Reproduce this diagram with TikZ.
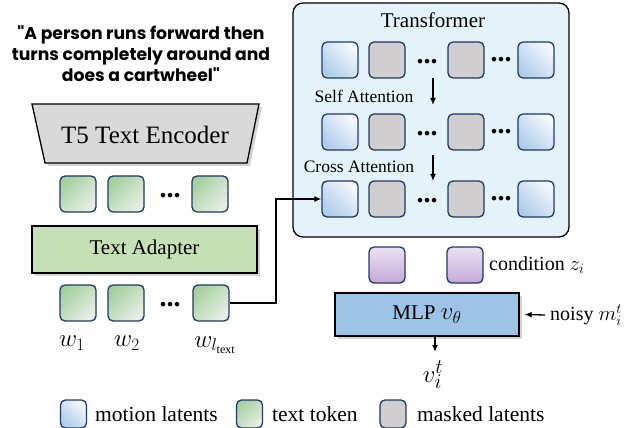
\documentclass[tikz,border=0pt]{standalone}
\usepackage{fontspec}
\setmainfont{Liberation Serif}
\newfontfamily\quotefont{Poppins}
\usetikzlibrary{shadows,arrows.meta}
\definecolor{navy}{HTML}{1F3864}
\definecolor{tfbg}{HTML}{E4F3F9}
\definecolor{encgray}{HTML}{D9D9D9}
\definecolor{adgreen}{HTML}{C5E0B4}
\definecolor{mlpblue}{HTML}{9DC3E6}
\definecolor{maskgray}{HTML}{D0CECE}
\definecolor{blueA}{HTML}{AFCDEB}
\definecolor{blueB}{HTML}{F4F8FC}
\definecolor{greenA}{HTML}{A6D0A0}
\definecolor{greenB}{HTML}{E8EEE6}
\definecolor{purA}{HTML}{EBE2F2}
\definecolor{purB}{HTML}{C4A8D9}
\tikzset{
  tok/.style={draw=navy, line width=1.3pt, rounded corners=5pt, minimum width=36pt, minimum height=36pt, inner sep=0pt},
  btok/.style={tok, top color=blueB, bottom color=blueA, shading angle=-45},
  gtok/.style={tok, top color=greenA, bottom color=greenB, shading angle=45},
  mtok/.style={tok, fill=maskgray},
  ptok/.style={tok, top color=purA, bottom color=purB},
  ltok/.style={minimum width=26pt, minimum height=28pt},
  dots/.style={font=\bfseries\fontsize{28}{28}\selectfont, inner sep=0pt},
  lbl/.style={font=\fontsize{20}{22}\selectfont, inner sep=0pt},
  leg/.style={font=\fontsize{21.5}{23}\selectfont, inner sep=0pt},
  arr/.style={-{Latex[length=7pt,width=6pt]}, line width=1.3pt},
  shad/.style={drop shadow={opacity=0.35, shadow xshift=3pt, shadow yshift=-3pt}},
}
\begin{document}
\begin{tikzpicture}[x=1pt,y=-1pt]
\useasboundingbox (0,0) rectangle (641,428);
% quote
\node[font=\quotefont\bfseries\fontsize{17.2}{21}\selectfont, align=center, inner sep=0pt] (quote) at (141,54)
  {"A person runs forward then\\ turns completely around and\\ does a cartwheel"};
% T5 encoder
\path[draw=black, line width=1.3pt, fill=encgray, shad] (32,104) -- (259,104) -- (247,163) -- (45,163) -- cycle;
\node[font=\fontsize{25}{27}\selectfont, inner sep=0pt] (t5) at (145,135) {T5 Text Encoder};
% tokens row 1
\node[gtok] (g1) at (78,194) {};
\node[gtok] (g2) at (126,194) {};
\node[dots] (gd1) at (170,196) {...};
\node[gtok] (g3) at (210,194) {};
% adapter
\node[draw=black, line width=1.3pt, fill=adgreen, minimum width=225pt, minimum height=47pt, inner sep=0pt, shad, font=\fontsize{21}{23}\selectfont] (adapter) at (144.5,249.5) {Text Adapter};
% tokens row 2
\node[gtok] (g4) at (78,303) {};
\node[gtok] (g5) at (126,303) {};
\node[dots] (gd2) at (170,305) {...};
\node[gtok] (g6) at (211,303) {};
\node[font=\fontsize{24}{26}\selectfont, inner sep=0pt] (w1) at (72,343) {$w_1$};
\node[font=\fontsize{24}{26}\selectfont, inner sep=0pt] (w2) at (127,343) {$w_2$};
\node[font=\fontsize{24}{26}\selectfont, inner sep=0pt] (w3) at (215,345) {$w_{l_{\mathrm{text}}}$};
% transformer
\draw[line width=1.3pt, fill=tfbg, rounded corners=10pt] (293,3) rectangle (569,237);
\node[font=\fontsize{21}{23}\selectfont, inner sep=0pt] (tf) at (433,20) {Transformer};
% rows
\foreach \r/\y in {1/60,2/132,3/199}{
  \node[btok] (m\r1) at (340,\y) {};
  \node[mtok] (m\r2) at (387,\y) {};
  \node[dots] (d\r1) at (427,\y+2) {...};
  \node[mtok] (m\r3) at (466,\y) {};
  \node[dots] (d\r2) at (501,\y) {...};
  \node[btok] (m\r4) at (536,\y) {};
}
\coordinate (a1s) at (433,78);
\coordinate (a1e) at (433,105);
\coordinate (a2s) at (433,155);
\coordinate (a2e) at (433,181);
\draw[arr] (a1s) -- (a1e);
\draw[arr] (a2s) -- (a2e);
\node[font=\fontsize{17.5}{19}\selectfont, inner sep=0pt] (sa) at (364,96) {Self Attention};
\node[font=\fontsize{17.5}{19}\selectfont, inner sep=0pt] (ca) at (359,167) {Cross Attention};
% connector
\draw[arr, line width=1.2pt] (g6.east) -- (276,303) |- (m31.west);
% condition
\node[ptok] (p1) at (387,265) {};
\node[ptok] (p2) at (465,265) {};
\node[lbl, anchor=west] (cond) at (489,265) {condition $z_i$};
% MLP
\node[draw=black, line width=1.3pt, fill=mlpblue, minimum width=184pt, minimum height=43pt, inner sep=0pt, shad, font=\fontsize{21}{23}\selectfont] (mlp) at (427,314.5) {MLP {\fontsize{27}{27}\selectfont$v_\theta$}};
\node[lbl, anchor=west] (noisy) at (550,315) {noisy $m_i^t$};
\draw[arr] ([xshift=-5pt]noisy.west) -- ([xshift=5pt]mlp.east);
\node[font=\fontsize{30}{32}\selectfont, inner sep=0pt] (v) at (433,375) {$v_i^t$};
\coordinate (vtop) at (435,352);
\draw[arr] (vtop|-mlp.south) -- (vtop);
% legend
\node[btok, ltok] (lb) at (73.5,414) {};
\node[leg, anchor=west] (lbt) at (95,414) {motion latents};
\node[gtok, ltok] (lg) at (249.5,414) {};
\node[leg, anchor=west] (lgt) at (272,414) {text token};
\node[mtok, ltok] (lm) at (393,414) {};
\node[leg, anchor=west] (lmt) at (417,414) {masked latents};
\end{tikzpicture}
\end{document}
